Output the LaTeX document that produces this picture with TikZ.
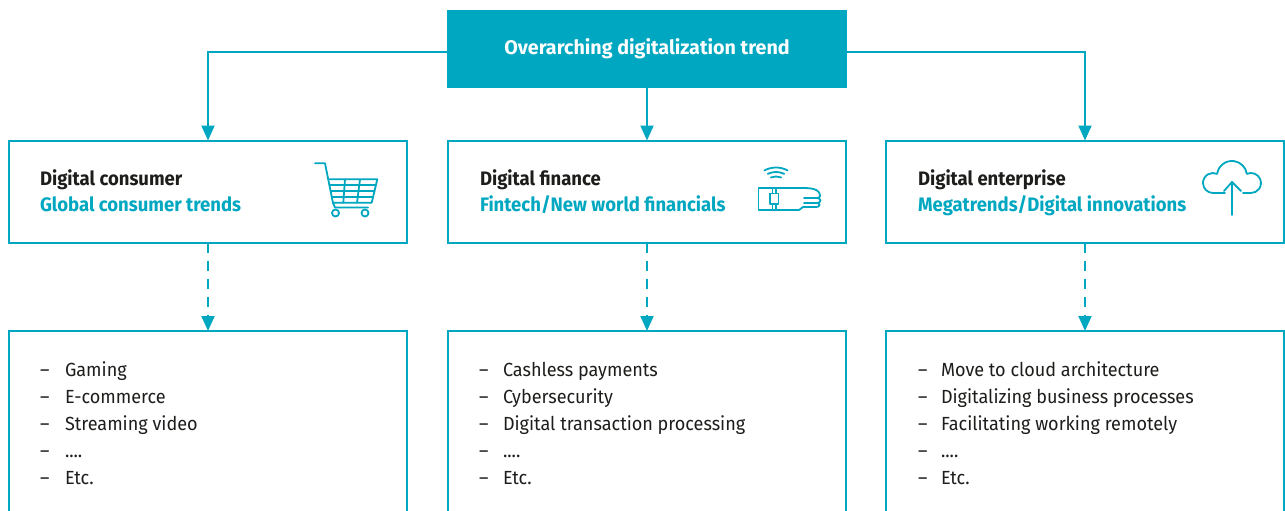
\documentclass[tikz,border=0pt]{standalone}
\usepackage{fontspec}
\setmainfont[FakeStretch=0.95]{Fira Sans}
\newfontfamily\topfont{Fira Sans}
\usetikzlibrary{arrows.meta}
\definecolor{teal1}{HTML}{00A7C0}
\definecolor{ink}{HTML}{1D1D1B}
\newcommand\myfourdots{....}
\tikzset{
  box/.style={draw=teal1, line width=2pt, outer sep=0pt, inner sep=0pt, fill=white},
  topbox/.style={fill=teal1, outer sep=0pt, inner sep=0pt},
  conn/.style={draw=teal1, line width=2pt, -{Triangle[width=13pt,length=15pt]}},
  dconn/.style={conn, dash pattern=on 10pt off 8pt},
  txt/.style={anchor=base west, inner sep=0pt, outer sep=0pt, text=ink,
    font=\fontsize{19}{19}\selectfont},
  hd/.style={txt, font=\fontsize{19.5}{19.5}\selectfont\bfseries},
  sub/.style={hd, text=teal1},
  icon/.style={draw=teal1, line width=1.8pt, line cap=round, line join=round},
}
\begin{document}
\begin{tikzpicture}[x=1pt, y=-1pt]
\useasboundingbox (0,0) rectangle (1285,511);
\clip (0,0) rectangle (1285,511);
\fill[white] (0,0) rectangle (1285,511);

% top box
\node[topbox, minimum width=400pt, minimum height=78pt] (top) at (647,49) {};
\node[inner sep=0pt, anchor=base, text=white, font=\topfont\fontsize{19.7}{19.7}\selectfont\bfseries] (toptxt) at (647,55) {Overarching digitalization trend};

% middle row boxes
\node[box, minimum width=398pt, minimum height=102pt] (c1) at (208,191.5) {};
\node[box, minimum width=398pt, minimum height=102pt] (c2) at (647,191.5) {};
\node[box, minimum width=398pt, minimum height=102pt] (c3) at (1085,191.5) {};

% bottom boxes
\node[box, minimum width=398pt, minimum height=250pt] (l1) at (208,456) {};
\node[box, minimum width=398pt, minimum height=250pt] (l2) at (647,456) {};
\node[box, minimum width=398pt, minimum height=250pt] (l3) at (1085,456) {};

% connectors
\draw[conn] ([yshift=-3pt]top.west) -| (c1.north);
\draw[conn] (top.south) -- (c2.north);
\draw[conn] ([yshift=-3pt]top.east) -| (c3.north);
\draw[dconn] (c1.south) -- (l1.north);
\draw[dconn] (c2.south) -- (l2.north);
\draw[dconn] (c3.south) -- (l3.north);

% header texts
\node[hd] (h1) at (40,185) {Digital consumer};
\node[sub] (s1) at (40,211) {Global consumer trends};
\node[hd] (h2) at (480,185) {Digital finance};
\node[sub] (s2) at (480,211) {Fintech/New world financials};
\node[hd] (h3) at (918,185) {Digital enterprise};
\node[sub] (s3) at (918,211) {Megatrends/Digital innovations};

% lists
\foreach \xd/\xt/\nm/\ia/\ib/\ic in {40/65/a/Gaming/E-commerce/Streaming video,
  479/503/b/Cashless payments/Cybersecurity/Digital transaction processing,
  918/941/c/Move to cloud architecture/Digitalizing business processes/Facilitating working remotely}{
  \foreach \i/\yy/\tx in {1/376/\ia, 2/403/\ib, 3/430/\ic, 4/457/\myfourdots, 5/484/Etc.}{
    \node[txt] (d\nm\i) at (\xd,\yy) {–};
    \node[txt] (t\nm\i) at (\xt,\yy) {\tx};
  }
}

% cart icon
\draw[icon] (315,163.3) -- (325,163.3) -- (333,203) -- (335,207.5) -- (368,207.5);
\draw[icon] (328.2,179.3) -- (377.3,179.3) -- (371.7,202.7) -- (333,202.7);
\draw[icon] (329.4,185.3) -- (375.9,185.3);
\draw[icon] (330.6,191) -- (374.5,191);
\draw[icon] (331.7,196.8) -- (373.1,196.8);
\draw[icon] (345,179.3) -- (343.3,202.7);
\draw[icon] (360,179.3) -- (357,202.7);
\draw[icon] (335.5,213) circle[radius=3.5pt];
\draw[icon] (365,213) circle[radius=3.5pt];

% wristband icon
\draw[icon] ([shift={(61:24pt)}]776,191.5) arc[start angle=61, end angle=119, radius=24pt];
\draw[icon] ([shift={(65:19.5pt)}]776,191.5) arc[start angle=65, end angle=115, radius=19.5pt];
\draw[icon] ([shift={(70:15pt)}]776,191.5) arc[start angle=70, end angle=110, radius=15pt];
\draw[icon] (770,188) -- (758.5,188) -- (758.5,210) -- (770,210);
\draw[icon] (770,193.5) rectangle (778.5,204);
\draw[icon] (772.5,188) -- (772.5,193.5) (776,188) -- (776,193.5);
\draw[icon] (772.5,204) -- (772.5,210) (776,204) -- (776,210);
\draw[icon] (770,188) -- (803,188) to[out=0,in=90] (820,196) to[out=-90,in=0] (817,198) -- (804,198);
\draw[icon] (817,198) to[out=0,in=90] (820.5,200.5) to[out=-90,in=0] (817,203) -- (804,203);
\draw[icon] (817,203) to[out=0,in=90] (819.5,205) to[out=-90,in=0] (816,207) -- (803,207) -- (799,210) -- (770,210);

% cloud icon
\draw[icon] (1225,193) -- (1213,193) arc[start angle=-90, end angle=-294.3, radius=10pt]
  arc[start angle=172, end angle=8, radius=15pt]
  arc[start angle=114.3, end angle=-90, radius=10pt] -- (1243,193);
\draw[icon] (1232,215) -- (1232,182);
\draw[icon] (1224,191) -- (1232,182) -- (1241,191);
\end{tikzpicture}
\end{document}
